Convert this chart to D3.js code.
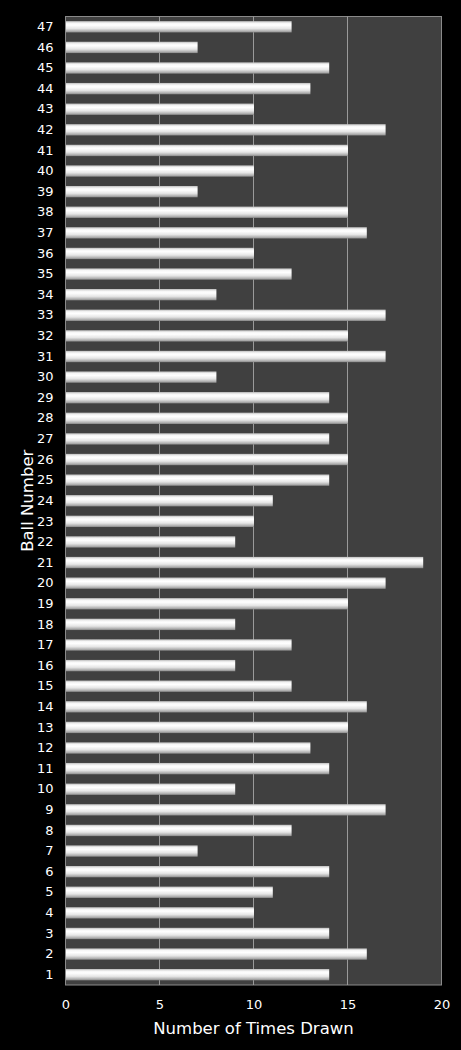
<!DOCTYPE html>
<html>
<head>
<meta charset="utf-8">
<script src="https://cdn.jsdelivr.net/npm/d3@7"></script>
<style>
  html, body { margin: 0; padding: 0; background: #000; }
  text { font-family: "DejaVu Sans", sans-serif; fill: #fff; }
</style>
</head>
<body>
<div id="chart"></div>
<script>
// ball numbers, bottom to top
const balls = d3.range(1, 48).map(String);
// times drawn for balls 1..47
const timesDrawn = [14, 16, 14, 10, 11, 14, 7, 12, 17, 9,
                    14, 13, 15, 16, 12, 9, 12, 9, 15, 17,
                    19, 9, 10, 11, 14, 15, 14, 15, 14, 8,
                    17, 15, 17, 8, 12, 10, 16, 15, 7, 10,
                    15, 17, 10, 13, 14, 7, 12];
const xTicks = [0, 5, 10, 15, 20];

const width = 461, height = 1050;
const margin = { top: 16.5, right: 19.5, bottom: 65, left: 65.5 };

const svg = d3.select("#chart").append("svg")
  .attr("width", width)
  .attr("height", height);

// bar gradient (cylinder look)
const grad = svg.append("defs").append("linearGradient")
  .attr("id", "barGrad")
  .attr("x1", 0).attr("y1", 0).attr("x2", 0).attr("y2", 1);
[[0, "#bdbdbd"], [0.18, "#f6f6f6"], [0.35, "#ffffff"], [0.65, "#e6e6e6"], [0.9, "#ababab"], [1, "#858585"]]
  .forEach(([o, c]) => grad.append("stop").attr("offset", o).attr("stop-color", c));

const x = d3.scaleLinear()
  .domain([0, 20])
  .range([margin.left, width - margin.right]);

const y = d3.scaleBand()
  .domain(balls.slice().reverse())
  .range([margin.top, height - margin.bottom])
  .paddingInner(0.45)
  .paddingOuter(0.225);

// plot area
svg.append("rect")
  .attr("x", x(0)).attr("y", margin.top)
  .attr("width", x(20) - x(0))
  .attr("height", height - margin.bottom - margin.top)
  .attr("fill", "#404040")
  .attr("stroke", "#8a8a8a")
  .attr("stroke-width", 1);

// gridlines
svg.append("g")
  .selectAll("line")
  .data(xTicks.filter(d => d > 0 && d < 20))
  .join("line")
  .attr("x1", d => x(d)).attr("x2", d => x(d))
  .attr("y1", margin.top).attr("y2", height - margin.bottom)
  .attr("stroke", "#9a9a9a")
  .attr("stroke-width", 1);

// bars
svg.append("g")
  .selectAll("rect")
  .data(timesDrawn)
  .join("rect")
  .attr("x", x(0) + 0.5)
  .attr("y", (d, i) => y(balls[i]))
  .attr("width", d => x(d) - x(0))
  .attr("height", y.bandwidth())
  .attr("fill", "url(#barGrad)");

// x axis
const xAxis = svg.append("g")
  .attr("transform", `translate(0,${height - margin.bottom})`)
  .call(d3.axisBottom(x).tickValues(xTicks).tickSize(0).tickPadding(15));
xAxis.select(".domain").remove();
xAxis.selectAll("text").style("font-size", "13px");

// y axis
const yAxis = svg.append("g")
  .attr("transform", `translate(${margin.left},0)`)
  .call(d3.axisLeft(y).tickSize(0).tickPadding(12));
yAxis.select(".domain").remove();
yAxis.selectAll("text").style("font-size", "13px");

// axis titles
svg.append("text")
  .attr("x", (x(0) + x(20)) / 2)
  .attr("y", 1034)
  .attr("text-anchor", "middle")
  .style("font-size", "16.5px")
  .text("Number of Times Drawn");

svg.append("text")
  .attr("transform", `translate(33,${(margin.top + height - margin.bottom) / 2}) rotate(-90)`)
  .attr("text-anchor", "middle")
  .style("font-size", "16.5px")
  .text("Ball Number");
</script>
</body>
</html>
